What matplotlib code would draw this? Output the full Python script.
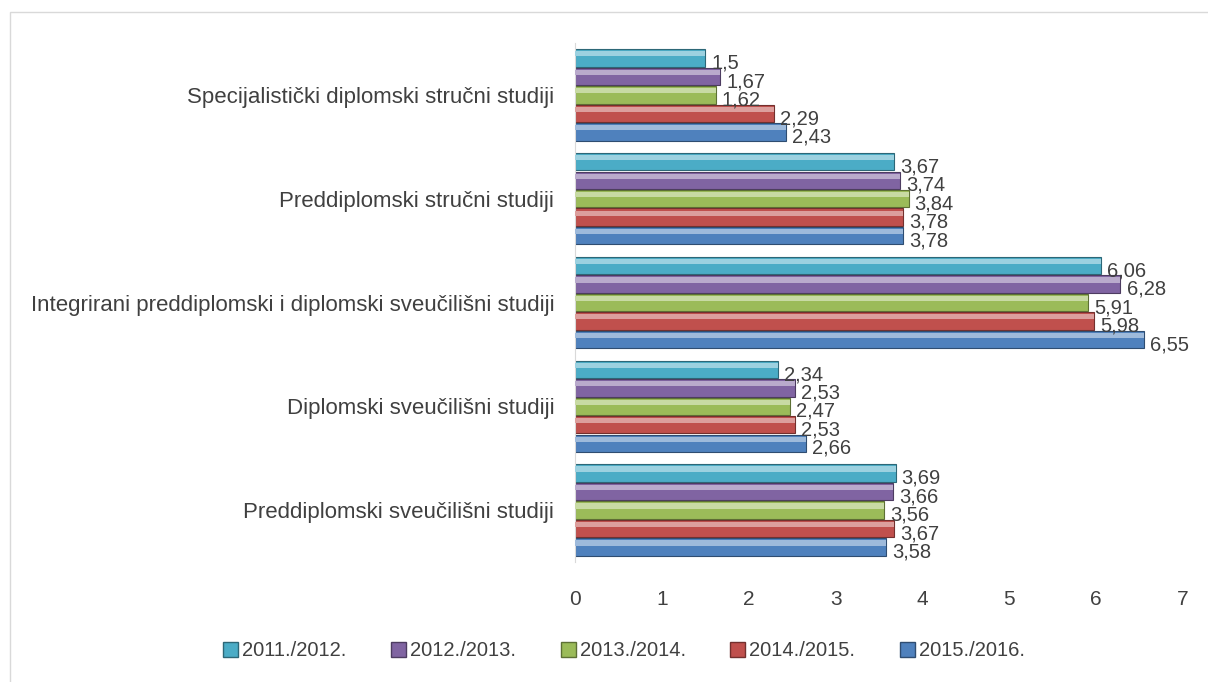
import matplotlib
matplotlib.use("Agg")
import matplotlib.pyplot as plt
from matplotlib.patches import Rectangle
from matplotlib.colors import to_rgb
import numpy as np

# kategorije, odozdo prema gore
categories = ["Preddiplomski sveučilišni studiji",
              "Diplomski sveučilišni studiji",
              "Integrirani preddiplomski i diplomski sveučilišni studiji",
              "Preddiplomski stručni studiji",
              "Specijalistički diplomski stručni studiji"]
years = ["2011./2012.", "2012./2013.", "2013./2014.", "2014./2015.", "2015./2016."]
v2011 = [3.69, 2.34, 6.06, 3.67, 1.5]
v2012 = [3.66, 2.53, 6.28, 3.74, 1.67]
v2013 = [3.56, 2.47, 5.91, 3.84, 1.62]
v2014 = [3.67, 2.53, 5.98, 3.78, 2.29]
v2015 = [3.58, 2.66, 6.55, 3.78, 2.43]
series = [v2011, v2012, v2013, v2014, v2015]
colors = ["#4bacc6", "#8064a2", "#9bbb59", "#c0504d", "#4f81bd"]

TXT = "#404040"
plt.rcParams["font.family"] = ["Liberation Sans", "DejaVu Sans"]


def shade(c, f):
    r = np.array(to_rgb(c))
    return tuple(np.clip(r + (1 - r) * f, 0, 1)) if f > 0 else tuple(r * (1 + f))


fig = plt.figure(figsize=(12.08, 6.82), dpi=100)
fig.patches.append(Rectangle((10 / 1208, -0.1), 1.2, 1 - 12 / 682 + 0.1,
                             transform=fig.transFigure, fill=False,
                             ec="#d9d9d9", lw=1))
ax = fig.add_axes([575 / 1208, 1 - 562 / 682, (1183 - 575) / 1208, (562 - 43) / 682])

h = 0.178
y = np.arange(len(categories))
for i, (vals, c) in enumerate(zip(series, colors)):
    yy = y + (2 - i) * h
    ax.barh(yy, vals, height=h * 0.94, color=c, ec=shade(c, -0.4), lw=0.8, zorder=2)
    # svjetliji "3D" rub na vrhu
    ax.barh(yy + h * 0.22, vals, height=h * 0.28, color=shade(c, 0.45), lw=0, zorder=3)
    for yv, v in zip(yy, vals):
        ax.text(v + 0.07, yv - 0.05, str(v).replace(".", ","), va="center",
                ha="left", fontsize=14.5, color=TXT, zorder=4)

ax.set_xlim(0, 7)
ax.set_ylim(-0.5, len(categories) - 0.5)
ax.set_xticks(range(8))
ax.set_yticks(y)
ax.set_yticklabels(categories, fontsize=16)
ax.tick_params(axis="both", length=0, colors=TXT)
ax.tick_params(axis="x", labelsize=15, pad=20)
ax.tick_params(axis="y", pad=15)
for s in ["top", "right", "bottom"]:
    ax.spines[s].set_visible(False)
ax.spines["left"].set_color("#d9d9d9")

handles = [Rectangle((0, 0), 1, 1, fc=c, ec=shade(c, -0.4)) for c in colors]
fig.legend(handles, years, loc="center", bbox_to_anchor=(624 / 1208, 1 - 651 / 682),
           ncol=5, frameon=False, fontsize=14.5, handlelength=0.75, handleheight=0.75,
           handletextpad=0.2, columnspacing=2.2, labelcolor=TXT)

fig.savefig("out.png", dpi=100)
